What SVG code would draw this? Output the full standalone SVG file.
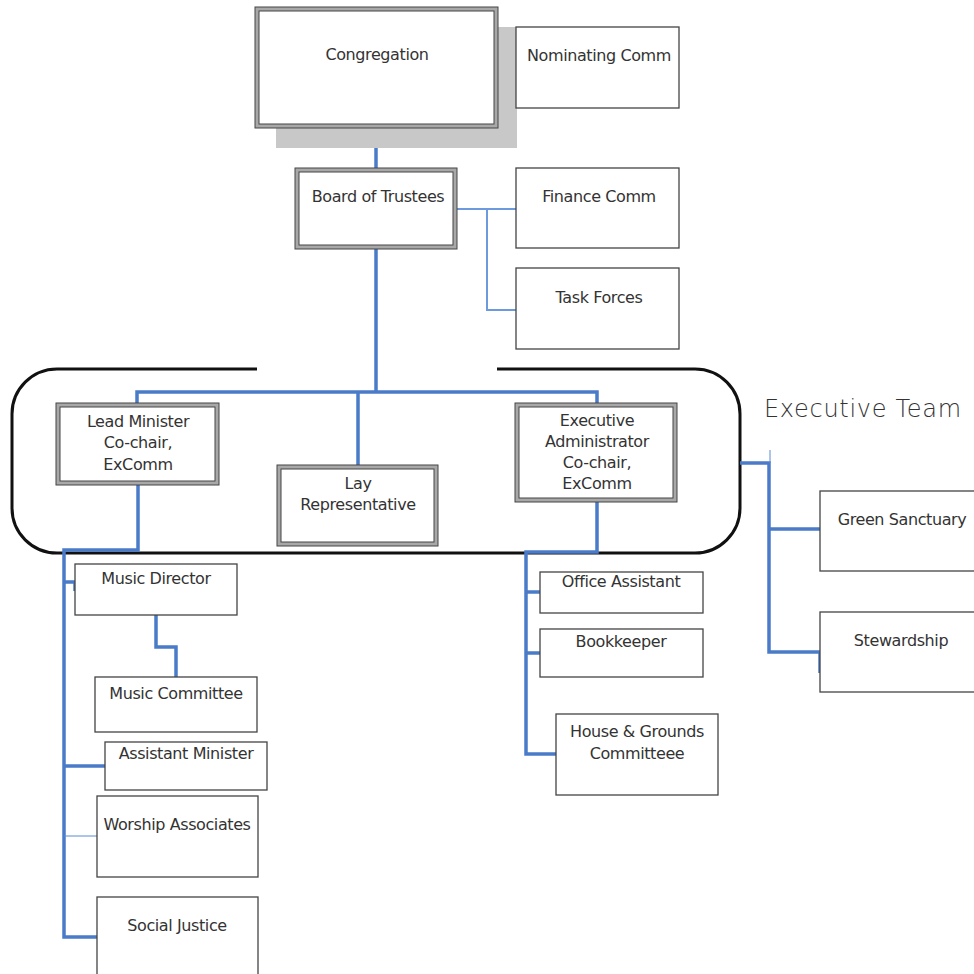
<svg xmlns="http://www.w3.org/2000/svg" width="974" height="974" viewBox="0 0 974 974">
<style>
.box{fill:#fff;stroke:#444;stroke-width:1.3}
.dbl{fill:#a8a8a8;stroke:#444;stroke-width:1}
.dbi{fill:#fff;stroke:#444;stroke-width:1}
.t{font-family:"DejaVu Sans","Verdana",sans-serif;font-size:16px;fill:#333;text-anchor:middle;letter-spacing:-0.4px}
.c{fill:none;stroke:#4a7bc8;stroke-width:3.5}
.cl{fill:none;stroke:#6d9ade;stroke-width:2}
.ct{fill:none;stroke:#5b8ad2;stroke-width:1}
</style>
<rect width="974" height="974" fill="#fff"/>
<g id="exec-team-frame">
<path d="M257,369 H57 A45,45 0 0 0 12,414 V508 A45,45 0 0 0 57,553 H695 A45,45 0 0 0 740,508 V414 A45,45 0 0 0 695,369 H497" fill="none" stroke="#111" stroke-width="3"/>
<text x="764" y="417" style="font-family:'DejaVu Sans',sans-serif;font-size:24px;font-weight:200;fill:#333;letter-spacing:0.7px">Executive Team</text>
</g>
<g id="connectors">
<path class="cl" d="M498,68 H516"/>
<path class="c" d="M376,128 V168"/>
<path class="cl" d="M457,209 H516 M487,209 V310 H516"/>
<path class="c" d="M376,249 V392 M137,403 V392 H597 V403 M358,392 V465"/>
<path class="c" d="M138,485 V550 H64 V937 H97 M64,582 H75 V591 M64,766 H105"/>
<path class="ct" d="M64,836 H97"/>
<path class="c" d="M156,615 V647 H176 V677"/>
<path class="c" d="M597,502 V552 H526 V754 H556 M526,592 H540 M526,653 H540"/>
<path class="c" d="M740,463 H769 V652 H820 V673 M769,529 H820"/>
<path class="ct" d="M770,450 V463" stroke-width="1.5"/>
</g>
<g id="congregation">
<rect x="276" y="27" width="241" height="121" fill="#c8c8c8"/>
<rect class="dbl" x="255" y="7" width="243" height="121"/>
<rect class="dbi" x="259" y="11" width="235" height="113"/>
<text class="t" x="377" y="60">Congregation</text>
</g>
<g id="nominating-comm">
<rect class="box" x="516" y="27" width="163" height="81"/>
<text class="t" x="599" y="61">Nominating Comm</text>
</g>
<g id="board-of-trustees">
<rect class="dbl" x="295" y="168" width="162" height="81"/>
<rect class="dbi" x="299" y="172" width="154" height="73"/>
<text class="t" x="378" y="202">Board of Trustees</text>
</g>
<g id="finance-comm">
<rect class="box" x="516" y="168" width="163" height="80"/>
<text class="t" x="599" y="202">Finance Comm</text>
</g>
<g id="task-forces">
<rect class="box" x="516" y="268" width="163" height="81"/>
<text class="t" x="599" y="303">Task Forces</text>
</g>
<g id="lead-minister">
<rect class="dbl" x="56" y="403" width="163" height="82"/>
<rect class="dbi" x="60" y="407" width="155" height="74"/>
<text class="t" x="138" y="427">Lead Minister</text>
<text class="t" x="138" y="448">Co-chair,</text>
<text class="t" x="138" y="470">ExComm</text>
</g>
<g id="lay-representative">
<rect class="dbl" x="277" y="465" width="161" height="81"/>
<rect class="dbi" x="281" y="469" width="153" height="73"/>
<text class="t" x="358" y="489">Lay</text>
<text class="t" x="358" y="510">Representative</text>
</g>
<g id="executive-administrator">
<rect class="dbl" x="515" y="403" width="162" height="99"/>
<rect class="dbi" x="519" y="407" width="154" height="91"/>
<text class="t" x="597" y="426">Executive</text>
<text class="t" x="597" y="447">Administrator</text>
<text class="t" x="597" y="468">Co-chair,</text>
<text class="t" x="597" y="489">ExComm</text>
</g>
<g id="music-director">
<rect class="box" x="75" y="564" width="162" height="51"/>
<text class="t" x="156" y="584">Music Director</text>
</g>
<g id="music-committee">
<rect class="box" x="95" y="677" width="162" height="55"/>
<text class="t" x="176" y="699">Music Committee</text>
</g>
<g id="assistant-minister">
<rect class="box" x="105" y="742" width="162" height="48"/>
<text class="t" x="186" y="759">Assistant Minister</text>
</g>
<g id="worship-associates">
<rect class="box" x="97" y="796" width="161" height="81"/>
<text class="t" x="177" y="830">Worship Associates</text>
</g>
<g id="social-justice">
<rect class="box" x="97" y="897" width="161" height="90"/>
<text class="t" x="177" y="931">Social Justice</text>
</g>
<g id="office-assistant">
<rect class="box" x="540" y="572" width="163" height="41"/>
<text class="t" x="621" y="587">Office Assistant</text>
</g>
<g id="bookkeeper">
<rect class="box" x="540" y="629" width="163" height="48"/>
<text class="t" x="621" y="647">Bookkeeper</text>
</g>
<g id="house-grounds">
<rect class="box" x="556" y="714" width="162" height="81"/>
<text class="t" x="637" y="737">House &amp; Grounds</text>
<text class="t" x="637" y="759">Committeee</text>
</g>
<g id="green-sanctuary">
<rect class="box" x="820" y="491" width="170" height="80"/>
<text class="t" x="902" y="525">Green Sanctuary</text>
</g>
<g id="stewardship">
<rect class="box" x="820" y="612" width="170" height="80"/>
<text class="t" x="901" y="646">Stewardship</text>
</g>
</svg>
